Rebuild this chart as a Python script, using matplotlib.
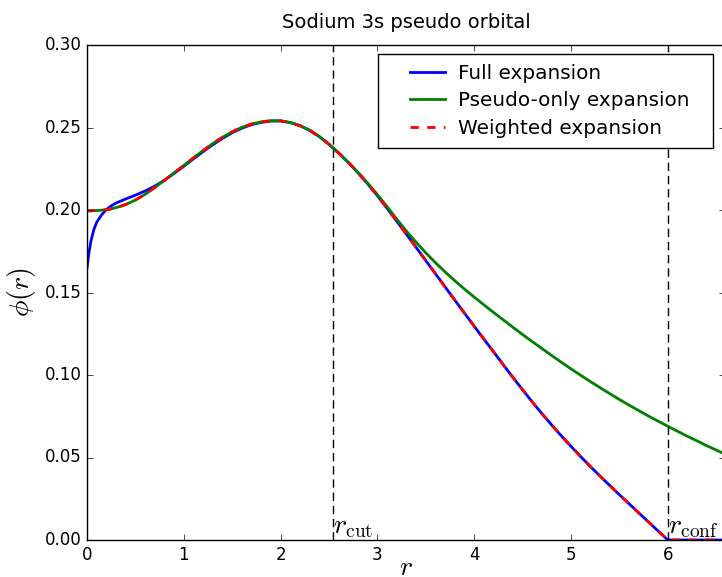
import numpy as np
import matplotlib
matplotlib.use("Agg")
import matplotlib.pyplot as plt
from matplotlib.ticker import FormatStrFormatter
from matplotlib.lines import Line2D
from matplotlib.legend_handler import HandlerLine2D

plt.style.use("classic")

# radial grid
r = [0.0, 0.02, 0.04, 0.07, 0.1, 0.15, 0.2, 0.25, 0.3,
     0.4, 0.5, 0.6, 0.7, 0.8, 0.9, 1.0, 1.1, 1.2, 1.3, 1.4, 1.5, 1.6, 1.7,
     1.8, 1.9, 2.0, 2.1, 2.2, 2.3, 2.4, 2.5, 2.6, 2.7, 2.8, 2.9, 3.0, 3.1,
     3.2, 3.3, 3.4, 3.5, 3.6, 3.7, 3.8, 3.9, 4.0, 4.1, 4.2, 4.3, 4.4, 4.5,
     4.6, 4.7, 4.8, 4.9, 5.0, 5.1, 5.2, 5.3, 5.4, 5.5, 5.6, 5.7, 5.8, 5.9,
     6.0, 6.1, 6.2, 6.3, 6.4, 6.5, 6.6]

full = [0.1650, 0.1740, 0.1810, 0.1880, 0.1925, 0.1970, 0.2003, 0.2025, 0.2042,
        0.2067, 0.2090, 0.2115, 0.2145, 0.2180, 0.2222, 0.2265, 0.2310, 0.2354,
        0.2396, 0.2434, 0.2468, 0.2496, 0.2517, 0.2531, 0.2539, 0.2540, 0.2530,
        0.2511, 0.2483, 0.2445, 0.2398, 0.2345, 0.2288, 0.2225, 0.2158, 0.2086,
        0.2010, 0.1932, 0.1853, 0.1773, 0.1693, 0.1613, 0.1533, 0.1453, 0.1374,
        0.1295, 0.1217, 0.1140, 0.1062, 0.0985, 0.0910, 0.0836, 0.0765, 0.0697,
        0.0631, 0.0567, 0.0505, 0.0445, 0.0387, 0.0330, 0.0274, 0.0219, 0.0164,
        0.0109, 0.0054, 0.0, 0.0, 0.0, 0.0, 0.0, 0.0, 0.0]

pseudo = [0.1995, 0.1995, 0.1995, 0.1996, 0.1997, 0.1999, 0.2002, 0.2007, 0.2014,
          0.2033, 0.2060, 0.2095, 0.2136, 0.2180, 0.2225, 0.2270, 0.2316, 0.2361,
          0.2403, 0.2441, 0.2474, 0.2501, 0.2521, 0.2534, 0.2541, 0.2540, 0.2530,
          0.2511, 0.2483, 0.2445, 0.2398, 0.2345, 0.2288, 0.2227, 0.2162, 0.2093,
          0.2020, 0.1944, 0.1872, 0.1804, 0.1740, 0.1680, 0.1624, 0.1571, 0.1520,
          0.1472, 0.1425, 0.1379, 0.1334, 0.1289, 0.1245, 0.1202, 0.1160, 0.1118,
          0.1077, 0.1037, 0.0998, 0.0960, 0.0923, 0.0887, 0.0851, 0.0817, 0.0784,
          0.0751, 0.0720, 0.0689, 0.0659, 0.0629, 0.0601, 0.0572, 0.0545, 0.0517]

weighted = [0.1995, 0.1995, 0.1995, 0.1996, 0.1997, 0.1999, 0.2002, 0.2007, 0.2014,
            0.2033, 0.2060, 0.2095, 0.2136, 0.2180, 0.2225, 0.2270, 0.2316, 0.2361,
            0.2403, 0.2441, 0.2474, 0.2501, 0.2521, 0.2534, 0.2541, 0.2540, 0.2530,
            0.2511, 0.2483, 0.2445, 0.2398, 0.2345, 0.2288, 0.2225, 0.2158, 0.2086,
            0.2010, 0.1932, 0.1853, 0.1773, 0.1693, 0.1613, 0.1533, 0.1453, 0.1374,
            0.1295, 0.1217, 0.1140, 0.1062, 0.0985, 0.0910, 0.0836, 0.0765, 0.0697,
            0.0631, 0.0567, 0.0505, 0.0445, 0.0387, 0.0330, 0.0274, 0.0219, 0.0164,
            0.0109, 0.0054, 0.0, 0.0, 0.0, 0.0, 0.0, 0.0, 0.0]

rcut = 2.54
rconf = 6.0

fig = plt.figure(figsize=(7.22, 5.77), dpi=100)
fig.patch.set_facecolor("white")
ax = fig.add_axes([87/722, 37/577, 638/722, 495/577])

ax.plot(r, full, color="b", lw=2, label="Full expansion")
ax.plot(r, pseudo, color="g", lw=2, label="Pseudo-only expansion")
ax.plot(r, weighted, color="r", lw=2, ls="--", label="Weighted expansion")

ax.axvline(rcut, color="k", ls="--", lw=1, dashes=(6, 3.5))
ax.axvline(rconf, color="k", ls="--", lw=1, dashes=(6, 3.5))
ax.text(rcut, 0, r"$r_\mathrm{cut}$", fontsize=20, ha="left", va="bottom")
ax.text(rconf, 0, r"$r_\mathrm{conf}$", fontsize=20, ha="left", va="bottom")

ax.set_xlim(0, 6.59)
ax.set_ylim(0, 0.30)
ax.set_xticks([0, 1, 2, 3, 4, 5, 6])
ax.set_yticks(np.arange(0, 0.301, 0.05))
ax.yaxis.set_major_formatter(FormatStrFormatter("%.2f"))
ax.tick_params(labelsize=12)

ax.set_xlabel(r"$r$", fontsize=20, labelpad=-7.5)
ax.set_ylabel(r"$\phi(r)$", fontsize=20)
ax.set_title("Sodium 3s pseudo orbital", fontsize=14, pad=12)

# old-style legend: wide box, handles inset from the left edge
ax.legend(loc="upper left", bbox_to_anchor=(0.456, 0.0, 0.525, 0.982),
          mode="expand", borderaxespad=0, fontsize=14.4, borderpad=0.5,
          handlelength=3.15, handletextpad=0.37, labelspacing=0.42,
          handler_map={Line2D: HandlerLine2D(xpad=0.8)})

fig.savefig("out.png", dpi=100, facecolor="white")
